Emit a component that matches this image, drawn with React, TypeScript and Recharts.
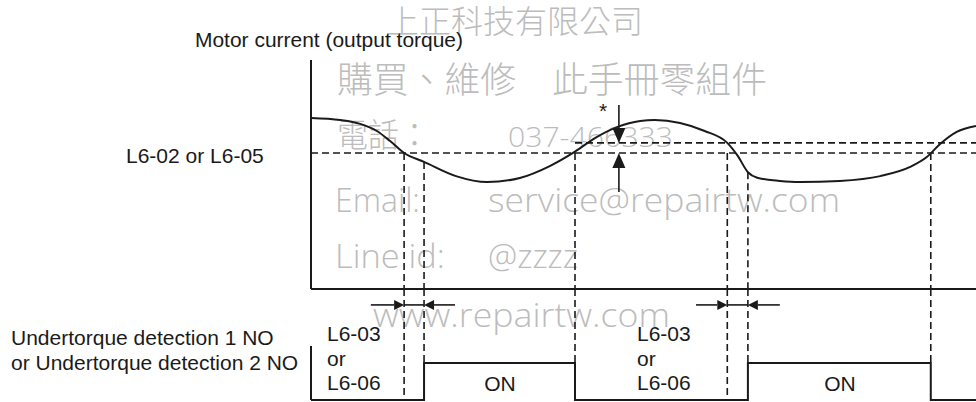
import React from "react";
import { ComposedChart, Line, XAxis, YAxis, ReferenceLine } from "recharts";

// ---------- data ----------
const curveTime = [0, 4.4, 7.4, 9.9, 11.9, 14.0, 17.0, 21.8, 26.5, 31.4, 35.9, 39.7, 42.7, 46.0, 49.5, 51.7, 55.5, 59.2, 62.6, 64.2, 65.7, 67.1, 70.5, 73.5, 79.5, 85.6, 90.1, 92.6, 94.6, 97.1, 100];
const motorCurrent = [74.7, 73.8, 72.1, 69.0, 64.6, 59.4, 55.5, 49.3, 46.7, 48.5, 53.7, 60.0, 65.9, 70.7, 73.4, 73.8, 72.5, 69.0, 63.8, 58.0, 51.0, 48.6, 47.2, 46.7, 47.2, 49.3, 53.3, 57.6, 63.3, 68.6, 71.2];

const detectLevel = 59.4; // L6-02 / L6-05
const releaseLevel = 63.8; // hysteresis level
const detectStart = [14.0, 62.6];
const outputOn = [17.0, 65.7];
const outputOff = [39.7, 93.2];

const signalTime = [0, 17.0, 39.7, 65.7, 93.2, 100];
const signalState = [0, 1, 0, 1, 0, 0];

const starTime = 46.3;
const starTop = 80.3;
const starBottom = 42.4;

const delayLevel = 2.57;
const delayTailLeft = [9.0, 57.9];
const delayTailRight = [21.65, 70.5];
const signalBaseMark = 1.46;

const curveData = curveTime.map((t, i) => ({ t, c: motorCurrent[i] }));
const signalData = signalTime.map((t, i) => ({ t, v: signalState[i] }));
const currentAt = (t: number) => motorCurrent[curveTime.indexOf(t)];

const W = 976;
const H = 402;
const LEFT = 311;
const BLACK = "#1a1a1a";
const DASH = "7 4";
const WM = "#bcbcbc";
const LABEL_FONT = "'Liberation Sans', Arial, Helvetica, sans-serif";

const makeArrow = (size: number, width: number) => (props: any) => {
  const { x1, y1, x2, y2, stroke, strokeWidth } = props;
  const dx = x2 - x1;
  const dy = y2 - y1;
  const len = Math.hypot(dx, dy) || 1;
  const ux = dx / len;
  const uy = dy / len;
  const bx = x2 - ux * size;
  const by = y2 - uy * size;
  const px = -uy * (width / 2);
  const py = ux * (width / 2);
  return (
    <g>
      <line x1={x1} y1={y1} x2={bx} y2={by} stroke={stroke} strokeWidth={strokeWidth} />
      <polygon points={`${x2},${y2} ${bx + px},${by + py} ${bx - px},${by - py}`} fill={stroke} />
    </g>
  );
};
const bigArrow = makeArrow(15, 13);
const smallArrow = makeArrow(10, 10);

const layer: React.CSSProperties = { position: "absolute", left: 0, top: 0, width: W, height: H };

function Watermark() {
  const sans = "'Open Sans', 'DejaVu Sans', sans-serif";
  const cjk = "'Noto Sans CJK TC', 'Noto Sans CJK SC', sans-serif";
  return (
    <svg width={W} height={H} style={layer}>
      <g fill={WM} fontWeight={300}>
        <text x={387} y={33} fontFamily={cjk} fontSize={32} textLength={256} lengthAdjust="spacingAndGlyphs">上正科技有限公司</text>
        <text x={337} y={93} fontFamily={cjk} fontSize={36} textLength={430} lengthAdjust="spacingAndGlyphs">購買、維修　此手冊零組件</text>
        <text x={337} y={147} fontFamily={cjk} fontSize={33} textLength={93} lengthAdjust="spacingAndGlyphs">電話：</text>
        <text x={508} y={147} fontFamily={sans} fontSize={28} textLength={165} lengthAdjust="spacingAndGlyphs">037-466333</text>
        <text x={335} y={212} fontFamily={sans} fontSize={33} textLength={85} lengthAdjust="spacingAndGlyphs">Email:</text>
        <text x={488} y={212} fontFamily={sans} fontSize={33} textLength={352} lengthAdjust="spacingAndGlyphs">service@repairtw.com</text>
        <text x={335} y={268} fontFamily={sans} fontSize={33} textLength={110} lengthAdjust="spacingAndGlyphs">Line id:</text>
        <text x={488} y={268} fontFamily={sans} fontSize={33} textLength={90} lengthAdjust="spacingAndGlyphs">@zzzz</text>
        <text x={373} y={327} fontFamily={sans} fontSize={33} textLength={297} lengthAdjust="spacingAndGlyphs">www.repairtw.com</text>
      </g>
    </svg>
  );
}

function Labels() {
  const t = { fontFamily: LABEL_FONT, fontSize: 21, fill: BLACK } as any;
  return (
    <svg width={W} height={H} style={{ ...layer, pointerEvents: "none" }}>
      <text {...t} x={195} y={47} textLength={268} lengthAdjust="spacingAndGlyphs">Motor current (output torque)</text>
      <text {...t} x={126} y={163}>L6-02 or L6-05</text>
      <text {...t} x={603} y={118} textAnchor="middle">*</text>
      <text {...t} x={11} y={345}>Undertorque detection 1 NO</text>
      <text {...t} x={11} y={370}>or Undertorque detection 2 NO</text>
      {[327, 637].map((x) => (
        <g key={x}>
          <text {...t} x={x} y={341}>L6-03</text>
          <text {...t} x={x} y={366}>or</text>
          <text {...t} x={x} y={390}>L6-06</text>
        </g>
      ))}
      <text {...t} x={500} y={391} textAnchor="middle">ON</text>
      <text {...t} x={840} y={391} textAnchor="middle">ON</text>
    </svg>
  );
}

function TopChart() {
  return (
    <div style={layer}>
      <ComposedChart width={W} height={H} data={curveData} margin={{ top: 60, right: 0, bottom: 113, left: LEFT }}>
        <XAxis type="number" dataKey="t" domain={[0, 100]} hide />
        <YAxis type="number" domain={[0, 100]} hide />
        <ReferenceLine y={detectLevel} stroke={BLACK} strokeWidth={1.6} strokeDasharray={DASH} />
        <ReferenceLine segment={[{ x: outputOff[0], y: releaseLevel }, { x: 100, y: releaseLevel }]} stroke={BLACK} strokeWidth={1.6} strokeDasharray={DASH} />
        {detectStart.map((t) => (
          <ReferenceLine key={`ds${t}`} segment={[{ x: t, y: detectLevel }, { x: t, y: 0 }]} stroke={BLACK} strokeWidth={1.6} strokeDasharray={DASH} />
        ))}
        {outputOn.map((t) => (
          <ReferenceLine key={`on${t}`} segment={[{ x: t, y: currentAt(t) }, { x: t, y: 0 }]} stroke={BLACK} strokeWidth={1.6} strokeDasharray={DASH} />
        ))}
        {outputOff.map((t) => (
          <ReferenceLine key={`off${t}`} segment={[{ x: t, y: detectLevel }, { x: t, y: 0 }]} stroke={BLACK} strokeWidth={1.6} strokeDasharray={DASH} />
        ))}
        <ReferenceLine x={0} stroke={BLACK} strokeWidth={2} />
        <ReferenceLine y={0} stroke={BLACK} strokeWidth={2} />
        <ReferenceLine segment={[{ x: starTime, y: starTop }, { x: starTime, y: releaseLevel }]} stroke={BLACK} strokeWidth={1.6} shape={bigArrow} />
        <ReferenceLine segment={[{ x: starTime, y: starBottom }, { x: starTime, y: detectLevel }]} stroke={BLACK} strokeWidth={1.6} shape={bigArrow} />
        <Line type="monotone" dataKey="c" stroke={BLACK} strokeWidth={2} dot={false} isAnimationActive={false} />
      </ComposedChart>
    </div>
  );
}

function BottomChart() {
  return (
    <div style={layer}>
      <ComposedChart width={W} height={H} data={signalData} margin={{ top: 289, right: 0, bottom: 2, left: LEFT }}>
        <XAxis type="number" dataKey="t" domain={[0, 100]} hide />
        <YAxis type="number" domain={[0, 3]} hide />
        {detectStart.map((t) => (
          <ReferenceLine key={`ds${t}`} segment={[{ x: t, y: 3 }, { x: t, y: 0 }]} stroke={BLACK} strokeWidth={1.6} strokeDasharray={DASH} />
        ))}
        {[...outputOn, ...outputOff].map((t) => (
          <ReferenceLine key={`e${t}`} segment={[{ x: t, y: 3 }, { x: t, y: 1 }]} stroke={BLACK} strokeWidth={1.6} strokeDasharray={DASH} />
        ))}
        <ReferenceLine segment={[{ x: 0, y: signalBaseMark }, { x: 0, y: 0 }]} stroke={BLACK} strokeWidth={2} />
        {detectStart.map((t, i) => (
          <React.Fragment key={`arr${i}`}>
            <ReferenceLine segment={[{ x: delayTailLeft[i], y: delayLevel }, { x: t, y: delayLevel }]} stroke={BLACK} strokeWidth={1.6} shape={smallArrow} />
            <ReferenceLine segment={[{ x: t, y: delayLevel }, { x: outputOn[i], y: delayLevel }]} stroke={BLACK} strokeWidth={1.6} />
            <ReferenceLine segment={[{ x: delayTailRight[i], y: delayLevel }, { x: outputOn[i], y: delayLevel }]} stroke={BLACK} strokeWidth={1.6} shape={smallArrow} />
          </React.Fragment>
        ))}
        <Line type="stepAfter" dataKey="v" stroke={BLACK} strokeWidth={2} dot={false} isAnimationActive={false} />
      </ComposedChart>
    </div>
  );
}

export default function App() {
  return (
    <div style={{ position: "absolute", left: 0, top: 0, width: W, height: H, background: "#fff", overflow: "hidden" }}>
      <Watermark />
      <TopChart />
      <BottomChart />
      <Labels />
    </div>
  );
}
